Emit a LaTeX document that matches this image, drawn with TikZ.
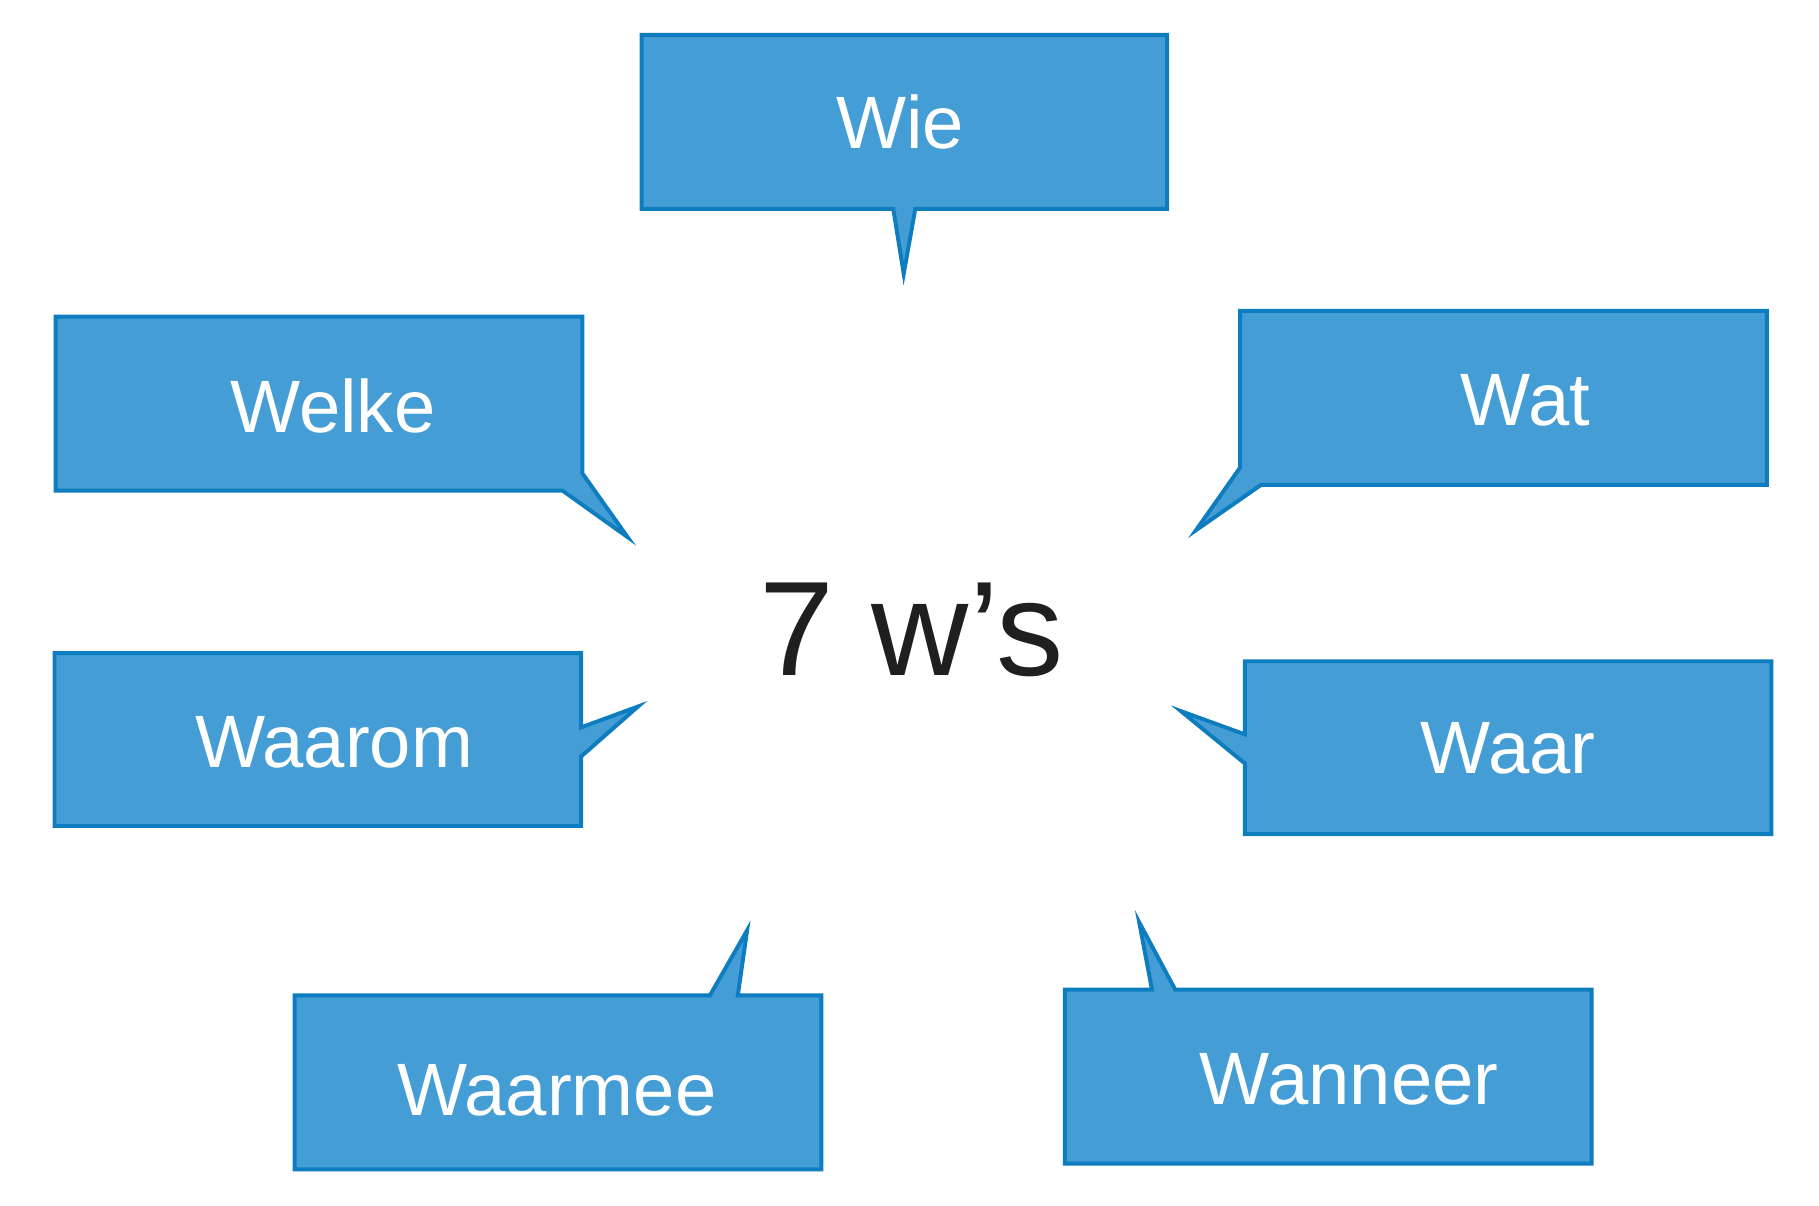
\documentclass[tikz,border=0pt]{standalone}
\usepackage{fontspec}
\setmainfont{Liberation Sans}
\definecolor{bfill}{RGB}{68,157,212}
\definecolor{bline}{RGB}{14,125,192}
\tikzset{
  bubble/.style={fill=bfill, draw=bline, line width=1.7pt, line join=miter},
  lbl/.style={text=white, font=\fontsize{32}{40}\selectfont, inner sep=0pt, anchor=center},
  title/.style={text=black!88, font=\fontsize{58}{70}\selectfont, inner sep=0pt, anchor=center}
}
\begin{document}
\begin{tikzpicture}[x=0.5pt,y=-0.5pt]
\useasboundingbox (0,0) rectangle (1568,1039);
% Wie
\draw[bubble] (553,30) -- (1006,30) -- (1006,180) -- (789,180) -- (779,236) -- (770,180) -- (553,180) -- cycle;
\node[lbl] (wie) at (776,105) {Wie};
% Welke
\draw[bubble] (48,273) -- (502,273) -- (502,408) -- (541,463) -- (485,423) -- (48,423) -- cycle;
\node[lbl] (welke) at (287,350) {Welke};
% Wat
\draw[bubble] (1069,268) -- (1523,268) -- (1523,418) -- (1087,418) -- (1031,457) -- (1069,403) -- cycle;
\node[lbl] (wat) at (1315,345) {Wat};
% Waarom
\draw[bubble] (47,563) -- (501,563) -- (501,627) -- (550,609) -- (501,652) -- (501,712) -- (47,712) -- cycle;
\node[lbl] (waarom) at (288,640) {Waarom};
% Waar
\draw[bubble] (1073,570) -- (1527,570) -- (1527,719) -- (1073,719) -- (1073,658) -- (1018,613) -- (1073,633) -- cycle;
\node[lbl] (waar) at (1300,645) {Waar};
% Waarmee
\draw[bubble] (254,858) -- (612,858) -- (644,802) -- (636,858) -- (708,858) -- (708,1008) -- (254,1008) -- cycle;
\node[lbl] (waarmee) at (480,940) {Waarmee};
% Wanneer
\draw[bubble] (918,853) -- (993,853) -- (982,795) -- (1013,853) -- (1372,853) -- (1372,1003) -- (918,1003) -- cycle;
\node[lbl] (wanneer) at (1163,930) {Wanneer};
% centre
\node[title] (center) at (786,543) {7 w’s};
\end{tikzpicture}
\end{document}
